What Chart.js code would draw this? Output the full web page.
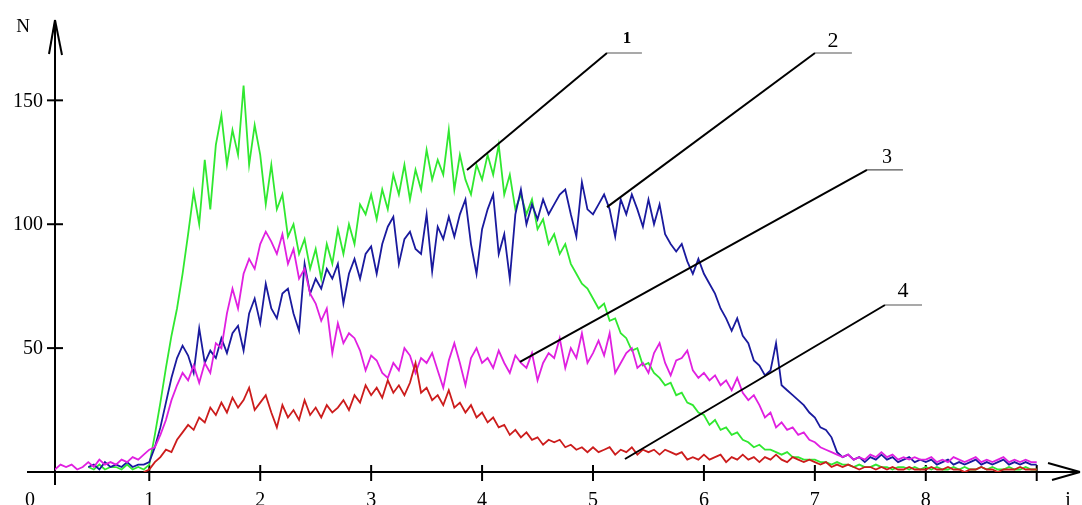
<!DOCTYPE html>
<html>
<head>
<meta charset="utf-8">
<script src="https://cdn.jsdelivr.net/npm/chart.js@4/dist/chart.umd.min.js"></script>
<style>
  html, body { margin: 0; padding: 0; background: #fff; }
  #chart { display: block; }
</style>
</head>
<body>
<canvas id="chart" width="1082" height="505"></canvas>
<script>
// sample grid: i = 0 .. 9, step 0.05 (one row of 20 per unit)
const X_STEP = 0.05;

// 1 - green
const green = [
  null, null, null, null, null, null, null, null, null, 2, 1, 3, 1, 2, 2, 1, 3, 1, 2, 1,
  3, 15, 28, 42, 55, 66, 80, 96, 113, 100, 126, 106, 132, 144, 124, 138, 128, 156, 124, 140,
  128, 108, 124, 106, 112, 95, 100, 88, 94, 82, 90, 78, 92, 84, 98, 88, 100, 92, 108, 104,
  112, 102, 114, 106, 120, 112, 124, 110, 122, 114, 130, 118, 126, 120, 138, 114, 128, 118, 112, 124,
  118, 128, 120, 132, 112, 120, 106, 112, 104, 110, 98, 102, 92, 96, 88, 92, 84, 80, 76, 74,
  70, 66, 68, 61, 62, 56, 54, 49, 50, 43, 44, 40, 38, 35, 36, 31, 32, 28, 27, 24,
  23, 19, 21, 17, 18, 15, 16, 13, 12, 10, 11, 9, 9, 8, 7, 8, 6, 6, 5, 5,
  5, 4, 4, 3, 4, 3, 3, 2, 3, 2, 2, 3, 2, 2, 1, 2, 2, 1, 2, 1,
  2, 1, 2, 1, 1, 2, 1, 2, 1, 1, 2, 1, 2, 1, 1, 2, 1, 1, 2, 1,
  1
];

// 2 - dark blue
const blue = [
  null, null, null, null, null, null, null, null, null, 2, 3, 1, 4, 2, 3, 2, 4, 2, 3, 3,
  4, 10, 18, 28, 38, 46, 51, 47, 40, 58, 44, 49, 46, 54, 48, 56, 59, 49, 64, 70,
  60, 76, 66, 62, 72, 74, 64, 57, 84, 72, 78, 74, 82, 78, 84, 68, 80, 86, 78, 88,
  91, 80, 92, 99, 103, 84, 94, 97, 90, 88, 104, 81, 99, 94, 103, 95, 104, 110, 92, 80,
  98, 106, 112, 88, 96, 78, 104, 114, 100, 108, 102, 110, 104, 108, 112, 114, 104, 95, 117, 106,
  104, 108, 112, 106, 95, 110, 104, 112, 106, 99, 110, 100, 108, 96, 92, 89, 92, 85, 80, 86,
  80, 76, 72, 66, 62, 57, 62, 55, 52, 45, 43, 39, 41, 52, 35, 33, 31, 29, 27, 24,
  22, 18, 17, 14, 8, 6, 7, 5, 6, 4, 6, 5, 7, 5, 6, 4, 5, 6, 4, 5,
  4, 5, 3, 4, 5, 3, 4, 3, 4, 5, 3, 4, 3, 4, 5, 3, 4, 3, 4, 3,
  3
];

// 3 - magenta
const magenta = [
  null, null, 2, 1, 3, 2, 3, 1, 2, 4, 2, 5, 3, 4, 3, 5, 4, 6, 5, 7,
  9, 10, 15, 21, 29, 35, 40, 37, 43, 36, 44, 40, 52, 50, 64, 74, 66, 80, 86, 82,
  92, 97, 93, 88, 96, 84, 90, 78, 82, 72, 68, 61, 66, 48, 60, 52, 56, 54, 49, 41,
  47, 45, 40, 38, 44, 41, 50, 47, 40, 46, 44, 48, 41, 34, 45, 52, 44, 35, 46, 50,
  44, 46, 42, 49, 44, 40, 47, 44, 42, 48, 37, 44, 48, 46, 54, 42, 50, 46, 56, 44,
  48, 53, 47, 56, 40, 44, 48, 50, 42, 44, 40, 48, 52, 44, 39, 45, 46, 49, 41, 38,
  40, 37, 39, 35, 37, 33, 38, 32, 29, 31, 27, 22, 24, 18, 20, 17, 18, 15, 16, 13,
  12, 10, 9, 8, 7, 6, 7, 5, 6, 5, 7, 6, 8, 6, 7, 5, 6, 5, 6, 5,
  5, 6, 4, 5, 4, 6, 5, 4, 5, 6, 4, 5, 4, 5, 6, 4, 5, 4, 5, 4,
  4
];

// 4 - red
const red = [
  null, null, null, null, null, null, null, null, null, null, null, null, null, null, null, null, null, null, null, 0,
  1, 4, 6, 9, 8, 13, 16, 19, 17, 22, 20, 26, 23, 28, 24, 30, 26, 29, 34, 25,
  28, 31, 24, 18, 27, 22, 25, 21, 29, 23, 26, 22, 27, 24, 26, 29, 25, 31, 28, 35,
  31, 34, 30, 37, 32, 35, 31, 36, 44, 32, 34, 29, 31, 27, 33, 26, 28, 24, 27, 22,
  24, 20, 22, 18, 19, 15, 17, 14, 16, 13, 14, 11, 13, 12, 13, 10, 11, 9, 10, 8,
  10, 8, 9, 10, 7, 9, 8, 10, 7, 9, 8, 9, 7, 9, 8, 7, 8, 5, 6, 5,
  7, 5, 6, 7, 4, 6, 5, 7, 5, 6, 4, 6, 5, 7, 5, 4, 6, 5, 4, 5,
  4, 3, 4, 2, 3, 2, 3, 2, 1, 2, 2, 1, 2, 1, 2, 1, 1, 2, 1, 1,
  1, 2, 1, 1, 2, 1, 1, 0, 1, 1, 2, 1, 1, 0, 1, 1, 1, 2, 1, 1,
  1
];

const xTicks = [1, 2, 3, 4, 5, 6, 7, 8];
const xEndTick = 9;
const yTicks = [50, 100, 150];

// leader lines: [start, corner, end of shelf], label position, text
const leaders = [
  { text: '1', pts: [[3.864, 121.9], [5.126, 169.1], [5.441, 169.1]], at: [5.306, 173.1], font: 'bold 17px "Liberation Serif"' },
  { text: '2', pts: [[5.126, 106.9], [7.001, 169.1], [7.334, 169.1]], at: [7.163, 171.5], font: '22px "Liberation Serif"' },
  { text: '3', pts: [[4.342, 44.4], [7.470, 121.9], [7.794, 121.9]], at: [7.650, 124.7], font: '20px "Liberation Serif"' },
  { text: '4', pts: [[5.288, 5.25], [7.632, 67.4], [7.966, 67.4]], at: [7.794, 70.6], font: '22px "Liberation Serif"' }
];

function toPoints(arr) {
  const out = [];
  arr.forEach((v, i) => {
    if (v !== null) out.push({ x: +(i * X_STEP).toFixed(2), y: v });
  });
  return out;
}

function seg(ctx, x1, y1, x2, y2) {
  ctx.beginPath();
  ctx.moveTo(x1, y1);
  ctx.lineTo(x2, y2);
  ctx.stroke();
}

const axesPlugin = {
  id: 'handAxes',
  beforeDatasetsDraw(chart) {
    const ctx = chart.ctx;
    const xs = chart.scales.x, ys = chart.scales.y;
    const ax = chart.chartArea.left;
    const ay = ys.getPixelForValue(0);
    ctx.save();
    ctx.strokeStyle = '#000';
    ctx.fillStyle = '#000';
    ctx.lineWidth = 2;
    // y axis + arrow
    seg(ctx, ax, ay + 13, ax, 20);
    seg(ctx, ax, 20, ax - 6, 54);
    seg(ctx, ax, 20, ax + 7, 55);
    // x axis + arrow
    seg(ctx, 27, ay, 1080, ay);
    seg(ctx, 1080, ay, 1048, ay - 9);
    seg(ctx, 1080, ay, 1052, ay + 8);

    ctx.font = '20px "Liberation Serif"';
    // y ticks
    ctx.textAlign = 'right';
    ctx.textBaseline = 'middle';
    yTicks.forEach(v => {
      const py = ys.getPixelForValue(v);
      seg(ctx, ax - 8, py, ax + 8, py);
      ctx.fillText(String(v), ax - 12, py + 1);
    });
    // x ticks
    ctx.textAlign = 'center';
    ctx.textBaseline = 'alphabetic';
    xTicks.forEach(v => {
      const px = xs.getPixelForValue(v);
      seg(ctx, px, ay - 7, px, ay + 9);
      ctx.fillText(String(v), px, 506);
    });
    const pe = xs.getPixelForValue(xEndTick);
    seg(ctx, pe, ay - 7, pe, ay + 9);
    ctx.fillText('0', 30, 506);
    ctx.fillText('i', 1068, 506);
    ctx.font = '19px "Liberation Serif"';
    ctx.fillText('N', 23, 32);
    ctx.restore();
  },
  afterDatasetsDraw(chart) {
    const ctx = chart.ctx;
    const xs = chart.scales.x, ys = chart.scales.y;
    ctx.save();
    ctx.fillStyle = '#000';
    ctx.textAlign = 'center';
    ctx.textBaseline = 'alphabetic';
    leaders.forEach(l => {
      const p = l.pts.map(q => [xs.getPixelForValue(q[0]), ys.getPixelForValue(q[1])]);
      ctx.strokeStyle = '#000';
      ctx.lineWidth = 2;
      seg(ctx, p[0][0], p[0][1], p[1][0], p[1][1]);
      ctx.strokeStyle = '#555';
      ctx.lineWidth = 1.2;
      seg(ctx, p[1][0], p[1][1], p[2][0], p[2][1]);
      ctx.font = l.font;
      ctx.fillText(l.text, xs.getPixelForValue(l.at[0]), ys.getPixelForValue(l.at[1]));
    });
    ctx.restore();
  }
};

// higher order is drawn first (underneath)
const series = [
  { label: '1', data: green, color: '#30e830', order: 4 },
  { label: '2', data: blue, color: '#1a1a9e', order: 3 },
  { label: '3', data: magenta, color: '#e020e0', order: 2 },
  { label: '4', data: red, color: '#cc1c1c', order: 1 }
];

new Chart(document.getElementById('chart'), {
  type: 'line',
  data: {
    datasets: series.map(s => ({
      label: s.label,
      data: toPoints(s.data),
      borderColor: s.color,
      backgroundColor: s.color,
      borderWidth: 1.8,
      pointRadius: 0,
      tension: 0,
      fill: false,
      order: s.order
    }))
  },
  options: {
    responsive: false,
    devicePixelRatio: 1,
    animation: false,
    layout: { padding: { left: 55, right: 12, top: 26, bottom: 33 } },
    scales: {
      x: { type: 'linear', min: 0.15, max: 9.3, display: false },
      y: { min: 0, max: 180, display: false }
    },
    plugins: {
      legend: { display: false },
      tooltip: { enabled: false }
    }
  },
  plugins: [axesPlugin]
});
</script>
</body>
</html>
